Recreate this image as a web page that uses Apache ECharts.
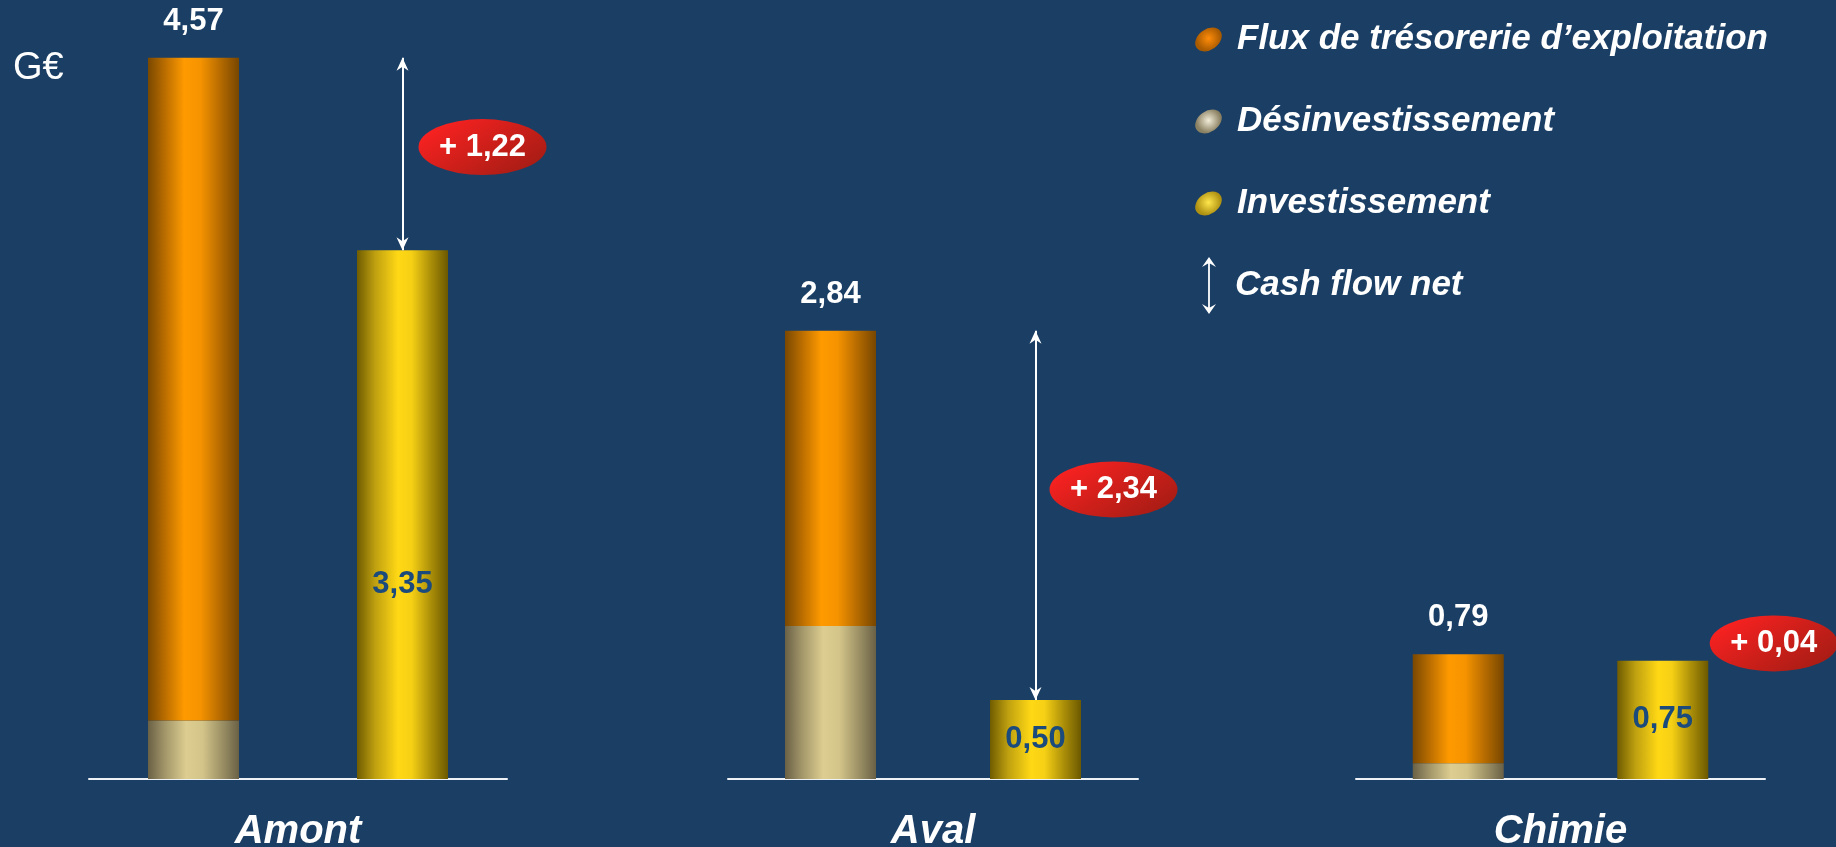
<!DOCTYPE html>
<html>
<head>
<meta charset="utf-8">
<script src="https://cdn.jsdelivr.net/npm/echarts@6/dist/echarts.min.js"></script>
<style>
  html, body { margin: 0; padding: 0; background: #1b3e64; overflow: hidden; }
  #chart { width: 1836px; height: 847px; }
</style>
</head>
<body>
<div id="chart"></div>
<script>
// G€, lecture du graphique
const categories = ['Amont', 'Aval', 'Chimie'];
const desinvestissement = [0.37, 0.97, 0.10];
const fluxExploitation = [4.20, 1.87, 0.69];
const investissement = [3.35, 0.50, 0.75];

const NAME_FLUX = 'Flux de trésorerie d’exploitation';
const NAME_DESINV = 'Désinvestissement';
const NAME_INV = 'Investissement';
const NAME_NET = 'Cash flow net';

const FONT = '"Liberation Sans", Arial, sans-serif';

const fmt = (v) => v.toFixed(2).replace('.', ',');

// layout of the three panels
const panels = [
  { left: 89, width: 418, bubble: [80, -7], invLabel: [0, 70], arrow: true },
  { left: 728, width: 410, bubble: [78, -26], invLabel: [0, 0], arrow: true },
  { left: 1356, width: 409, bubble: [111, -14], invLabel: [0, 0], arrow: false },
];

const cylinder = (stops) => ({
  type: 'linear', x: 0, y: 0, x2: 1, y2: 0,
  colorStops: stops.map(([offset, color]) => ({ offset, color })),
});

const orange = cylinder([[0, '#7a4800'], [0.18, '#b86c00'], [0.4, '#ff9a00'], [0.58, '#f59300'], [0.8, '#b46a00'], [1, '#774600']]);
const beige = cylinder([[0, '#6a6146'], [0.2, '#a69a6c'], [0.42, '#ddcd90'], [0.6, '#d3c489'], [0.82, '#9a8f64'], [1, '#6a6146']]);
const yellow = cylinder([[0, '#6f5c00'], [0.2, '#bfa010'], [0.45, '#ffd815'], [0.6, '#f6d015'], [0.82, '#a88c08'], [1, '#6c5900']]);
const red = {
  type: 'linear', x: 0, y: 0.15, x2: 1, y2: 0.85,
  colorStops: [{ offset: 0, color: '#ff2222' }, { offset: 0.5, color: '#cf1f1a' }, { offset: 1, color: '#a21c14' }],
};

const dot = (inner, outer) => ({
  type: 'radial', x: 0.5, y: 0.45, r: 0.6,
  colorStops: [{ offset: 0, color: inner }, { offset: 1, color: outer }],
});

const ellipseIcon = 'path://M-11.47 8.03 A14 10 -35 1 1 11.47 -8.03 A14 10 -35 1 1 -11.47 8.03 Z';
const arrowIcon = 'path://M7 0 L14 10 L7.9 6.5 L7.9 50.5 L14 47 L7 57 L0 47 L6.1 50.5 L6.1 6.5 L0 10 Z';
const chevron = 'path://M6 0 L12 13 L6 9 L0 13 Z';

const grid = [];
const xAxis = [];
const yAxis = [];
const series = [];

panels.forEach((p, i) => {
  const total = desinvestissement[i] + fluxExploitation[i];
  const net = total - investissement[i];

  grid.push({ left: p.left, width: p.width, top: 53, bottom: 68, outerBoundsMode: 'none' });
  xAxis.push({
    type: 'category',
    gridIndex: i,
    data: ['exploitation', 'investissement'],
    axisLine: { lineStyle: { color: '#eef2f7', width: 2 } },
    axisTick: { show: false },
    axisLabel: { show: false },
    name: categories[i],
    nameLocation: 'middle',
    nameGap: 33,
    nameTextStyle: { color: '#ffffff', fontSize: 40, fontWeight: 'bold', fontStyle: 'italic', fontFamily: FONT },
  });
  yAxis.push({ type: 'value', gridIndex: i, min: 0, max: 4.6, show: false, splitLine: { show: false } });

  series.push({
    type: 'bar', name: NAME_DESINV, xAxisIndex: i, yAxisIndex: i, stack: 'p' + i,
    barWidth: 91, itemStyle: { color: beige },
    data: [desinvestissement[i], '-'],
  });
  series.push({
    type: 'bar', name: NAME_FLUX, xAxisIndex: i, yAxisIndex: i, stack: 'p' + i,
    barWidth: 91, itemStyle: { color: orange },
    label: {
      show: true, position: 'top', distance: 21,
      formatter: () => fmt(total),
      color: '#ffffff', fontSize: 31, fontWeight: 'bold', fontFamily: FONT,
    },
    data: [fluxExploitation[i], '-'],
  });
  series.push({
    type: 'bar', name: NAME_INV, xAxisIndex: i, yAxisIndex: i, stack: 'p' + i,
    barWidth: 91, itemStyle: { color: yellow },
    label: {
      show: true, position: 'inside', offset: p.invLabel,
      formatter: (d) => fmt(d.value),
      color: '#1b4a7c', fontSize: 31, fontWeight: 'bold', fontFamily: FONT,
    },
    data: ['-', investissement[i]],
  });
  series.push({
    type: 'scatter', name: NAME_NET, xAxisIndex: i, yAxisIndex: i,
    symbol: 'circle', symbolSize: [128, 56], symbolOffset: p.bubble,
    itemStyle: { color: red, opacity: 1 },
    label: {
      show: true, position: 'inside',
      formatter: () => '+ ' + fmt(net),
      color: '#ffffff', fontSize: 31, fontWeight: 'bold', fontFamily: FONT,
    },
    z: 5,
    data: [[1, (total + investissement[i]) / 2]],
    markLine: p.arrow ? {
      silent: true,
      symbol: [chevron, chevron],
      symbolSize: [12, 13],
      symbolOffset: [[0, 6.5], [0, 6.5]],
      label: { show: false },
      lineStyle: { color: '#ffffff', width: 2, type: 'solid', opacity: 1 },
      data: [[{ coord: [1, total] }, { coord: [1, investissement[i]] }]],
    } : undefined,
  });
});

const legendText = {
  color: '#ffffff', fontSize: 35, fontWeight: 'bold', fontStyle: 'italic', fontFamily: FONT,
};

const option = {
  backgroundColor: '#1b3e64',
  animation: false,
  title: {
    text: 'G€', left: 8, top: 45,
    textStyle: { color: '#ffffff', fontSize: 38, fontWeight: 'normal', fontFamily: FONT },
  },
  legend: [
    {
      orient: 'vertical', left: 1194, top: 22, padding: 0, itemGap: 47,
      itemWidth: 29, itemHeight: 24, selectedMode: false,
      textStyle: Object.assign({ padding: [0, 0, 0, 9] }, legendText),
      data: [
        { name: NAME_FLUX, icon: ellipseIcon, itemStyle: { color: dot('#ff8c0a', '#a85a00') } },
        { name: NAME_DESINV, icon: ellipseIcon, itemStyle: { color: dot('#f2ecd8', '#8a8062') } },
        { name: NAME_INV, icon: ellipseIcon, itemStyle: { color: dot('#ffe64c', '#b09212') } },
      ],
    },
    {
      orient: 'vertical', left: 1202, top: 257, padding: 0,
      itemWidth: 14, itemHeight: 57, selectedMode: false,
      textStyle: Object.assign({ padding: [0, 0, 0, 14] }, legendText),
      data: [{ name: NAME_NET, icon: arrowIcon, itemStyle: { color: '#ffffff', opacity: 1 } }],
    },
  ],
  grid,
  xAxis,
  yAxis,
  series,
};

const chart = echarts.init(document.getElementById('chart'));
chart.setOption(option);
</script>
</body>
</html>
